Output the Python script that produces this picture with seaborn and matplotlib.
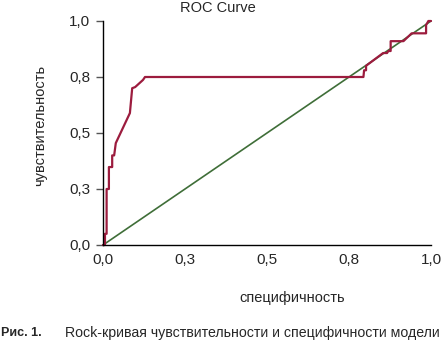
import numpy as np
import pandas as pd
import matplotlib
matplotlib.use("Agg")
import matplotlib.pyplot as plt
import seaborn as sns

# ---- data ----
fpr = [0.0, 0.006, 0.006, 0.011, 0.011, 0.018, 0.018, 0.028, 0.028, 0.034,
       0.039, 0.082, 0.089, 0.098, 0.122, 0.128, 0.794, 0.796, 0.802, 0.802,
       0.854, 0.866, 0.870, 0.877, 0.877, 0.916, 0.941, 0.985, 0.985, 0.992, 1.0]
tpr = [0.0, 0.0, 0.05, 0.05, 0.25, 0.25, 0.348, 0.348, 0.40, 0.40,
       0.455, 0.589, 0.70, 0.705, 0.737, 0.75, 0.75, 0.78, 0.78, 0.80,
       0.857, 0.857, 0.866, 0.866, 0.910, 0.910, 0.945, 0.945, 0.982, 1.0, 1.0]
ref_x = [0.0, 1.0]
ref_y = [0.0, 1.0]

tick_pos = [0.0, 0.25, 0.5, 0.75, 1.0]
tick_lbl = ["0,0", "0,3", "0,5", "0,8", "1,0"]

title = "ROC Curve"
xlabel = "специфичность"
ylabel = "чувствительность"
caption_bold = "Рис. 1."
caption = "Rock-кривая чувствительности и специфичности модели"

# ---- style ----
sns.set_style("white")
plt.rcParams["font.family"] = ["Liberation Sans", "DejaVu Sans"]
plt.rcParams["font.size"] = 11

fig = plt.figure(figsize=(4.41, 3.42), dpi=100)
ax = fig.add_axes([103 / 441, 1 - 245 / 342, 328 / 441, 224 / 342])

roc = pd.DataFrame({"x": fpr, "y": tpr})
diag = pd.DataFrame({"x": ref_x, "y": ref_y})

sns.lineplot(data=diag, x="x", y="y", sort=False, estimator=None,
             color="#3f6e38", linewidth=1.2, ax=ax)
sns.lineplot(data=roc, x="x", y="y", sort=False, estimator=None,
             color="#9c1c3e", linewidth=1.6, ax=ax)

ax.set_xlim(0, 1)
ax.set_ylim(0, 1)
ax.set_xticks(tick_pos)
ax.set_xticklabels(tick_lbl)
ax.set_yticks(tick_pos)
ax.set_yticklabels(tick_lbl)
ax.tick_params(axis="y", direction="out", length=5, width=1, color="#555555",
               pad=4, labelsize=11, left=True)
ax.tick_params(axis="x", length=0, pad=6, labelsize=11)
ax.set_xlabel("")
ax.set_ylabel("")

sns.despine(ax=ax)
for s in ("left", "bottom"):
    ax.spines[s].set_color("black")
    ax.spines[s].set_linewidth(1)
for l in ax.lines:
    l.set_clip_on(False)

# texts outside the axes
fig.text(218 / 441, 1 - 8 / 342, title, ha="center", va="center", fontsize=10.5)
fig.text(40 / 441, 1 - 125 / 342, ylabel, ha="center", va="center",
         rotation=90, fontsize=10.5)
fig.text(292 / 441, 1 - 298 / 342, xlabel, ha="center", va="center", fontsize=10.5)
fig.text(1 / 441, 1 - 333 / 342, caption_bold, ha="left", va="center",
         fontsize=9, fontweight="bold")
fig.text(440 / 441, 1 - 333 / 342, caption, ha="right", va="center", fontsize=10.2)

fig.savefig("out.png", dpi=100)
